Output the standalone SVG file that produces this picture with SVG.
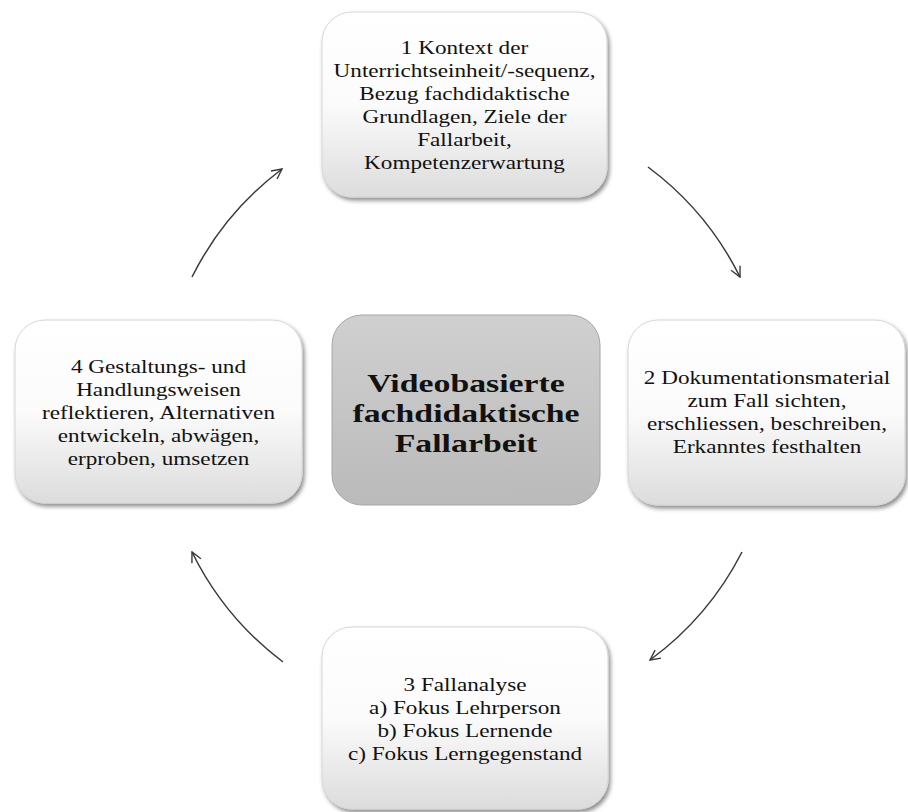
<svg xmlns="http://www.w3.org/2000/svg" width="908" height="812" viewBox="0 0 908 812" xml:space="preserve">
  <defs>
    <linearGradient id="gWhite" x1="0" y1="0" x2="0" y2="1">
      <stop offset="0" stop-color="#ffffff"/>
      <stop offset="0.5" stop-color="#fbfbfb"/>
      <stop offset="1" stop-color="#dcdcdc"/>
    </linearGradient>
    <linearGradient id="gGray" x1="0" y1="0" x2="0" y2="1">
      <stop offset="0" stop-color="#d0d0d0"/>
      <stop offset="1" stop-color="#bababa"/>
    </linearGradient>
    <filter id="shadow" x="-10%" y="-10%" width="120%" height="125%">
      <feDropShadow dx="2" dy="3" stdDeviation="2" flood-color="#000" flood-opacity="0.45"/>
    </filter>
    <marker id="arrow" viewBox="0 0 12 12" refX="11" refY="6" markerWidth="12" markerHeight="12" markerUnits="userSpaceOnUse" orient="auto">
      <path d="M1,1 L11,6 L1,11" fill="none" stroke="#3a3a3a" stroke-width="1.4"/>
    </marker>
    <style>
      .box { fill: url(#gWhite); stroke: #d6d6d6; stroke-width: 1; filter: url(#shadow); }
      .core { fill: url(#gGray); stroke: #a6a6a6; stroke-width: 1; }
      .t { font-family: "Liberation Serif", "Times New Roman", serif; font-size: 19px; fill: #111; text-anchor: middle; }
      .b { font-family: "Liberation Serif", "Times New Roman", serif; font-size: 26px; font-weight: bold; fill: #111; text-anchor: middle; }
      .arc { fill: none; stroke: #3a3a3a; stroke-width: 1.5; marker-end: url(#arrow); }
    </style>
  </defs>
  <rect width="908" height="812" fill="#ffffff"/>

  <g id="connectors">
    <path class="arc" d="M192,277 A307,307 0 0 1 282,169"/>
    <path class="arc" d="M648,167 A307,307 0 0 1 740,277"/>
    <path class="arc" d="M742,552 A307,307 0 0 1 650,660"/>
    <path class="arc" d="M283,662 A307,307 0 0 1 192,552"/>
  </g>

  <g id="node1">
    <rect class="box" x="322" y="12" width="285" height="185" rx="30" ry="30"/>
    <g transform="translate(464.5,0) scale(1.22,1)">
      <text class="t" x="0" y="54">1 Kontext  der</text>
      <text class="t" x="0" y="77">Unterrichtseinheit/-sequenz,</text>
      <text class="t" x="0" y="100">Bezug  fachdidaktische</text>
      <text class="t" x="0" y="123">Grundlagen,  Ziele  der</text>
      <text class="t" x="0" y="146">Fallarbeit,</text>
      <text class="t" x="0" y="169">Kompetenzerwartung</text>
    </g>
  </g>

  <g id="node2">
    <rect class="box" x="628" y="320" width="277" height="185" rx="30" ry="30"/>
    <g transform="translate(767,0) scale(1.22,1)">
      <text class="t" x="0" y="384">2 Dokumentationsmaterial</text>
      <text class="t" x="0" y="407">zum  Fall  sichten,</text>
      <text class="t" x="0" y="430">erschliessen,  beschreiben,</text>
      <text class="t" x="0" y="453">Erkanntes  festhalten</text>
    </g>
  </g>

  <g id="node3">
    <rect class="box" x="322" y="627" width="286" height="182" rx="30" ry="30"/>
    <g transform="translate(465,0) scale(1.22,1)">
      <text class="t" x="0" y="691">3 Fallanalyse</text>
      <text class="t" x="0" y="714">a) Fokus  Lehrperson</text>
      <text class="t" x="0" y="737">b) Fokus  Lernende</text>
      <text class="t" x="0" y="760">c) Fokus  Lerngegenstand</text>
    </g>
  </g>

  <g id="node4">
    <rect class="box" x="15" y="320" width="287" height="183" rx="30" ry="30"/>
    <g transform="translate(158.5,0) scale(1.22,1)">
      <text class="t" x="0" y="373">4 Gestaltungs-  und</text>
      <text class="t" x="0" y="396">Handlungsweisen</text>
      <text class="t" x="0" y="419">reflektieren,  Alternativen</text>
      <text class="t" x="0" y="442">entwickeln,  abwägen,</text>
      <text class="t" x="0" y="465">erproben,  umsetzen</text>
    </g>
  </g>

  <g id="center">
    <rect class="core" x="332" y="315" width="268" height="190" rx="30" ry="30"/>
    <g transform="translate(466,0) scale(1.3,1)">
      <text class="b" x="0" y="392">Videobasierte</text>
      <text class="b" x="0" y="422">fachdidaktische</text>
      <text class="b" x="0" y="452">Fallarbeit</text>
    </g>
  </g>
</svg>
